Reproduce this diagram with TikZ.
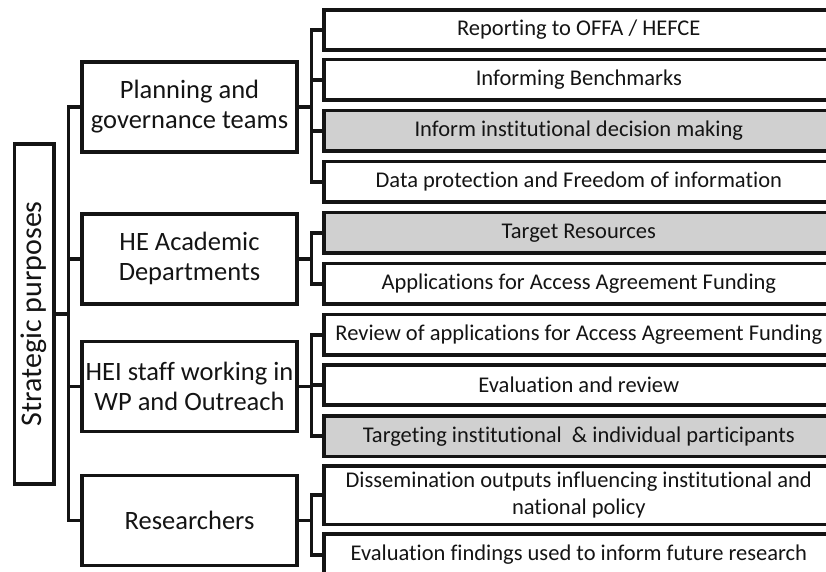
\documentclass[tikz,border=0pt]{standalone}
\usepackage{fontspec}
\setmainfont{Carlito}[Ligatures=NoCommon,RawFeature={-liga;-dlig;-clig;-calt}]
\definecolor{boxgray}{RGB}{208,208,208}
\definecolor{inkc}{RGB}{20,20,20}
\begin{document}
\begin{tikzpicture}[x=1pt,y=-1pt,
  box/.style={draw=inkc, text=inkc, line width=3.6pt, rectangle, inner sep=0pt, align=center},
  rbox/.style={box, minimum width=510pt, minimum height=40.5pt, font=\fontsize{22.5}{27}\selectfont},
  lbox/.style={box, minimum width=215pt, minimum height=90pt, font=\fontsize{26.5}{30}\selectfont},
  shaded/.style={fill=boxgray},
  conn/.style={draw=inkc, line width=3.6pt, line join=miter}]
\useasboundingbox (0,0) rectangle (826,571);
\clip (0,0) rectangle (826,571);
% root
\node[box, rotate=90, minimum width=340pt, minimum height=39.5pt, font=\fontsize{30}{36}\selectfont] (S) at (34.2,313.7) {Strategic purposes};
% second level
\node[lbox] (P) at (189.5,106.7) {Planning and\\governance teams};
\node[lbox] (H) at (189.5,258.7) {HE Academic\\Departments};
\node[lbox] (W) at (189.5,386.3) {HEI staff working in\\WP and Outreach};
\node[lbox] (R) at (189.5,520.3) {Researchers};
% third level
\node[rbox] (r1) at (578.8,30) {Reporting to OFFA / HEFCE};
\node[rbox] (r2) at (578.8,79.8) {Informing Benchmarks};
\node[rbox, shaded] (r3) at (578.8,130.8) {Inform institutional decision making};
\node[rbox] (r4) at (578.8,181.7) {Data protection and Freedom of information};
\node[rbox, shaded] (r5) at (578.8,232.8) {Target Resources};
\node[rbox] (r6) at (578.8,283.7) {Applications for Access Agreement Funding};
\node[rbox] (r7) at (578.8,334.8) {Review of applications for Access Agreement Funding};
\node[rbox] (r8) at (578.8,385) {Evaluation and review};
\node[rbox, shaded] (r9) at (578.8,436.2) {Targeting institutional\ \ \& individual participants};
\node[rbox, minimum height=58.3pt] (r10) at (578.8,495.2) {Dissemination outputs influencing institutional and\\national policy};
\node[rbox, minimum height=42pt] (r11) at (578.8,554.7) {Evaluation findings used to inform future research};
% trunk coordinates
\coordinate (T) at (68.3,0);
\coordinate (J) at (311.3,0);
% main trunk
\draw[conn] (S.south) -- (S.south -| T);
\draw[conn] (P.west) -- (P.west -| T) -- (R.west -| T) -- (R.west);
\draw[conn] (H.west -| T) -- (H.west);
\draw[conn] (W.west -| T) -- (W.west);
% planning group
\draw[conn] (P.east) -- (P.east -| J);
\draw[conn] (r1.west) -- (r1.west -| J) -- (r4.west -| J) -- (r4.west);
\draw[conn] (r2.west -| J) -- (r2.west);
\draw[conn] (r3.west -| J) -- (r3.west);
% HE group
\draw[conn] (H.east) -- (H.east -| J);
\draw[conn] (r5.west) -- (r5.west -| J) -- (r6.west -| J) -- (r6.west);
% HEI group
\draw[conn] (W.east) -- (W.east -| J);
\draw[conn] (r7.west) -- (r7.west -| J) -- (r9.west -| J) -- (r9.west);
\draw[conn] (r8.west -| J) -- (r8.west);
% researchers group
\draw[conn] (R.east) -- (R.east -| J);
\draw[conn] (r10.west) -- (r10.west -| J) -- (r11.west -| J) -- (r11.west);
\end{tikzpicture}
\end{document}
